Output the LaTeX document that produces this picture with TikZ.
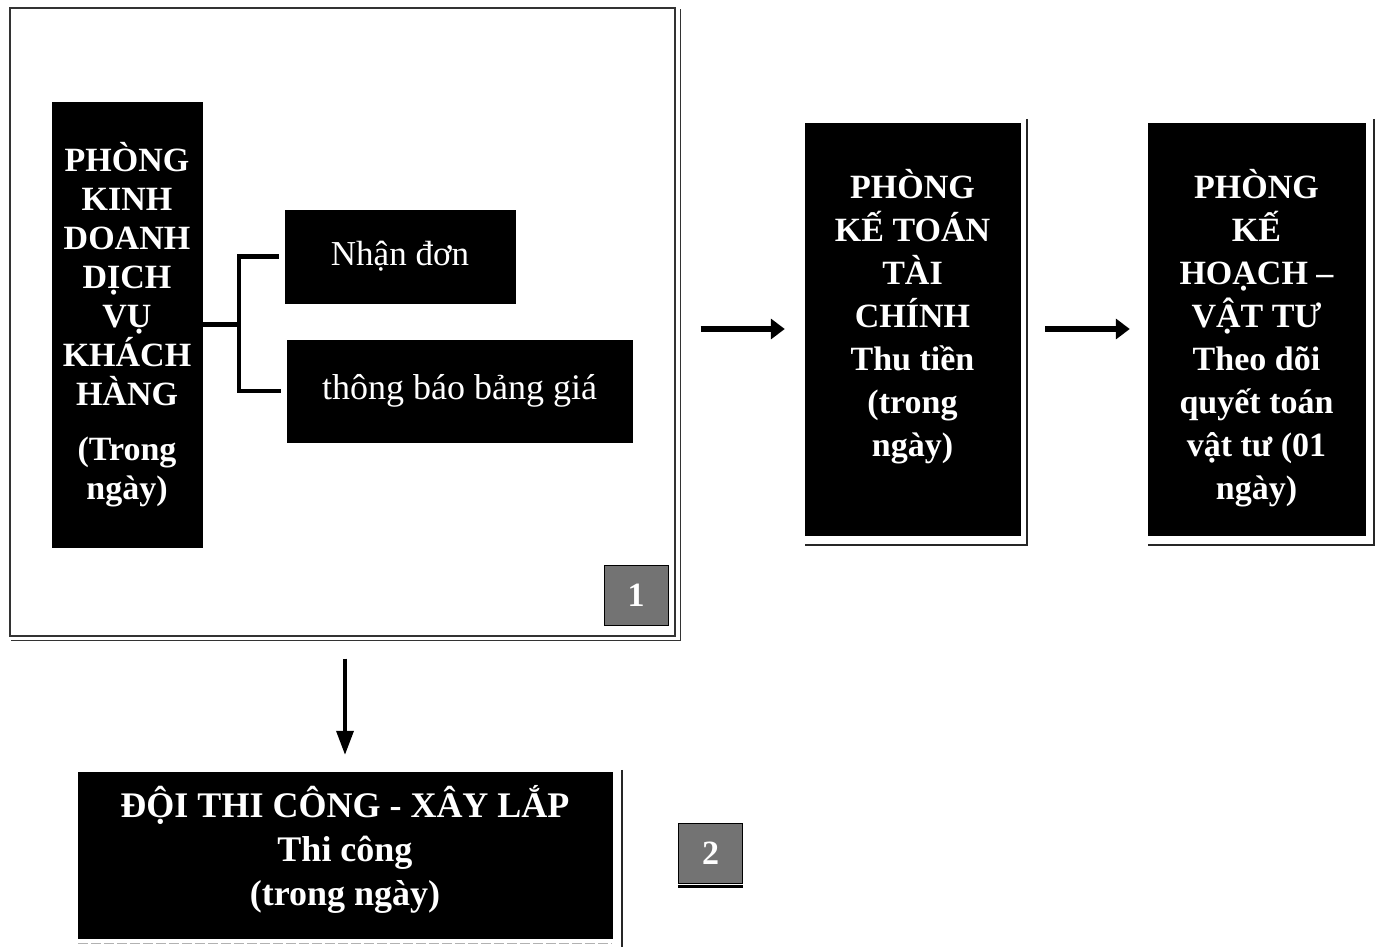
\documentclass[tikz,border=0pt]{standalone}
\usepackage{fontspec}
\setmainfont{Liberation Serif}
\usetikzlibrary{arrows.meta}
\begin{document}
\begin{tikzpicture}[x=1pt,y=-1pt,
  blk/.style={fill=black, draw=black, inner sep=0pt, text=white, align=center},
  wtxt/.style={text=white, align=center, inner sep=0pt},
  numbox/.style={fill=black!55, draw=black, line width=1pt, inner sep=0pt, text=white,
    minimum width=64pt, minimum height=60pt, font=\fontsize{34}{40}\selectfont\bfseries},
  conn/.style={line width=4.5pt},
  harr/.style={line width=6pt, -{Triangle[length=14pt,width=20pt]}},
  varr/.style={line width=3.5pt, -{Triangle[length=24pt,width=17pt]}},
  frameline/.style={line width=1.2pt, draw=black!80},
  shadowline/.style={line width=1.5pt, draw=black!85}
]
\useasboundingbox (0,0) rectangle (1381,947);

% outer frame of group 1
\node[frameline, draw, minimum width=665pt, minimum height=628pt, inner sep=0pt] (frame) at (342.5,322) {};
\draw[frameline] ([xshift=5pt,yshift=-2pt]frame.north east) -- ([xshift=5pt,yshift=-4pt]frame.south east) -- ([xshift=2pt,yshift=-4pt]frame.south west);

% left department box
\node[blk, minimum width=150pt, minimum height=445pt] (kd) at (127,324.5) {};
\node[wtxt, font=\fontsize{34}{39}\selectfont\bfseries] (kdt) at (kd.center)
  {PHÒNG\\KINH\\DOANH\\DỊCH\\VỤ\\KHÁCH\\HÀNG\\[16pt](Trong\\ngày)};

% sub boxes
\node[blk, minimum width=230pt, minimum height=93pt, font=\fontsize{35}{40}\selectfont] (nhan) at (400,256.5) {Nhận đơn};
\node[blk, minimum width=345pt, minimum height=102pt, font=\fontsize{36}{40}\selectfont] (tb) at (459.5,391) {thông báo bảng giá};

% bracket connector
\draw[conn] (kd.east) -- ++(37,0) coordinate (j);
\draw[conn, shorten <=6pt] (nhan.west) -| (j);
\draw[conn, shorten <=6pt] (tb.west) -| (j);

% number 1
\node[numbox] (n1) at (636,595) {1};

% accounting box
\node[blk, minimum width=215pt, minimum height=412pt] (kt) at (912.5,329) {};
\node[wtxt, font=\fontsize{34}{43}\selectfont\bfseries] (ktt) at ([yshift=12pt]kt.center)
  {PHÒNG\\KẾ TOÁN\\TÀI\\CHÍNH\\Thu tiền\\(trong\\ngày)};
\draw[shadowline] ([xshift=7pt,yshift=4pt]kt.north east) -- ([xshift=7pt,yshift=-10pt]kt.south east) -- ([yshift=-10pt]kt.south west);

% planning box
\node[blk, minimum width=217pt, minimum height=412pt] (kh) at (1256.5,329) {};
\node[wtxt, font=\fontsize{34}{43}\selectfont\bfseries] (kht) at ([yshift=-9pt]kh.center)
  {PHÒNG\\KẾ\\HOẠCH –\\VẬT TƯ\\Theo dõi\\quyết toán\\vật tư (01\\ngày)};
\draw[shadowline] ([xshift=9pt,yshift=4pt]kh.north east) -- ([xshift=9pt,yshift=-10pt]kh.south east) -- ([yshift=-10pt]kh.south west);

% horizontal arrows
\draw[harr, shorten <=25pt, shorten >=20pt] (frame.east |- kt.west) -- (kt.west);
\draw[harr, shorten <=25pt, shorten >=18pt] (kt.east) -- (kh.west);

% construction team box
\node[blk, minimum width=534pt, minimum height=166pt] (dt) at (345,855) {};
\node[wtxt, font=\fontsize{36}{44}\selectfont\bfseries] (dtt) at ([yshift=6pt]dt.center)
  {ĐỘI THI CÔNG - XÂY LẮP\\Thi công\\(trong ngày)};
\draw[shadowline] ([xshift=10pt,yshift=2pt]dt.north east) -- ([xshift=10pt,yshift=-9pt]dt.south east);
\draw[line width=1pt, draw=black!30, dash pattern=on 10pt off 3pt] ([yshift=-5pt]dt.south west) -- ([yshift=-5pt]dt.south east);

% down arrow
\draw[varr, shorten <=22pt, shorten >=17pt] (dt.north |- frame.south) -- (dt.north);

% number 2
\node[numbox] (n2) at (710.5,853) {2};
\draw[line width=2.5pt] ([yshift=-3pt]n2.south west) -- ([yshift=-3pt]n2.south east);

\end{tikzpicture}
\end{document}
